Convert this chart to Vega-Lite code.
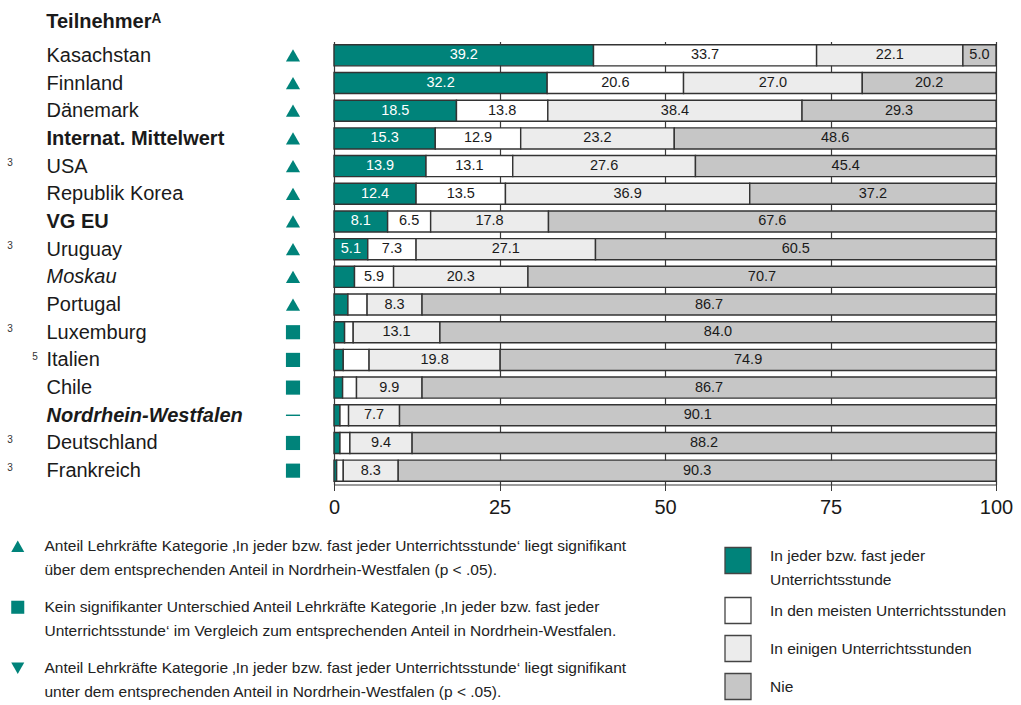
{
  "$schema": "https://vega.github.io/schema/vega-lite/v6.json",
  "padding": {"left": 7, "top": 11.5, "right": 2, "bottom": 1},
  "bounds": "flush",
  "spacing": 31,
  "config": {"view": {"stroke": null}, "font": "Liberation Sans", "text": {"font": "Liberation Sans"}, "style": {"guide-label": {"lineHeight": 24}}},
  "title": {"text": "Teilnehmerᴬ", "anchor": "start", "dx": 39, "fontSize": 20, "fontWeight": "bold", "color": "#1a1a1a", "offset": 10, "font": "Liberation Sans"},
  "datasets": {
    "rows": [
      {"country": "Kasachstan", "note": "", "sig": "up", "j": 39.2, "m": 33.7, "e": 22.1, "n": 5.0},
      {"country": "Finnland", "note": "", "sig": "up", "j": 32.2, "m": 20.6, "e": 27.0, "n": 20.2},
      {"country": "Dänemark", "note": "", "sig": "up", "j": 18.5, "m": 13.8, "e": 38.4, "n": 29.3},
      {"country": "Internat. Mittelwert", "note": "", "sig": "up", "j": 15.3, "m": 12.9, "e": 23.2, "n": 48.6},
      {"country": "USA", "note": "3", "sig": "up", "j": 13.9, "m": 13.1, "e": 27.6, "n": 45.4},
      {"country": "Republik Korea", "note": "", "sig": "up", "j": 12.4, "m": 13.5, "e": 36.9, "n": 37.2},
      {"country": "VG EU", "note": "", "sig": "up", "j": 8.1, "m": 6.5, "e": 17.8, "n": 67.6},
      {"country": "Uruguay", "note": "3", "sig": "up", "j": 5.1, "m": 7.3, "e": 27.1, "n": 60.5},
      {"country": "Moskau", "note": "", "sig": "up", "j": 3.1, "m": 5.9, "e": 20.3, "n": 70.7},
      {"country": "Portugal", "note": "", "sig": "up", "j": 2.1, "m": 2.9, "e": 8.3, "n": 86.7},
      {"country": "Luxemburg", "note": "3", "sig": "same", "j": 1.6, "m": 1.3, "e": 13.1, "n": 84.0},
      {"country": "Italien", "note": "5", "sig": "same", "j": 1.4, "m": 3.9, "e": 19.8, "n": 74.9},
      {"country": "Chile", "note": "", "sig": "same", "j": 1.3, "m": 2.1, "e": 9.9, "n": 86.7},
      {"country": "Nordrhein-Westfalen", "note": "", "sig": "ref", "j": 0.9, "m": 1.3, "e": 7.7, "n": 90.1},
      {"country": "Deutschland", "note": "3", "sig": "same", "j": 0.9, "m": 1.5, "e": 9.4, "n": 88.2},
      {"country": "Frankreich", "note": "3", "sig": "same", "j": 0.4, "m": 1.0, "e": 8.3, "n": 90.3}
    ]
  },
  "hconcat": [
    {
      "width": 20,
      "height": 443,
      "data": {"name": "rows"},
      "encoding": {
        "y": {
          "field": "country", "type": "nominal", "sort": null,
          "axis": {
            "title": null, "domain": false, "ticks": false, "tickSize": 0,
            "labelAlign": "left", "labelPadding": 237, "labelFontSize": 20,
            "labelColor": "#1a1a1a", "labelLimit": 320, "labelFont": "Liberation Sans",
            "labelFontWeight": {"condition": {"test": "datum.value == 'Internat. Mittelwert' || datum.value == 'VG EU' || datum.value == 'Nordrhein-Westfalen'", "value": "bold"}, "value": "normal"},
            "labelFontStyle": {"condition": {"test": "datum.value == 'Moskau' || datum.value == 'Nordrhein-Westfalen'", "value": "italic"}, "value": "normal"}
          }
        }
      },
      "layer": [
        {
          "mark": {"type": "point", "filled": true, "size": 200, "opacity": 1, "color": "#00837a"},
          "encoding": {
            "shape": {
              "field": "sig", "type": "nominal",
              "scale": {"domain": ["up", "same", "down", "ref"], "range": ["triangle-up", "square", "triangle-down", "M-1,-0.1H1V0.1H-1Z"]},
              "legend": {
                "orient": "none", "legendX": -273, "legendY": 497, "title": null,
                "values": ["up", "same", "down"],
                "symbolSize": 170, "symbolFillColor": "#00837a", "symbolStrokeWidth": 0,
                "labelFontSize": 15.5, "labelColor": "#222", "labelFont": "Liberation Sans",
                "labelOffset": 19, "labelLimit": 700, "rowPadding": 20, "gridAlign": "all",
                "labelExpr": "datum.value == 'up' ? ['Anteil Lehrkräfte Kategorie ‚In jeder bzw. fast jeder Unterrichtsstunde‘ liegt signifikant', 'über dem entsprechenden Anteil in Nordrhein-Westfalen (p < .05).'] : datum.value == 'same' ? ['Kein signifikanter Unterschied Anteil Lehrkräfte Kategorie ‚In jeder bzw. fast jeder', 'Unterrichtsstunde‘ im Vergleich zum entsprechenden Anteil in Nordrhein-Westfalen.'] : ['Anteil Lehrkräfte Kategorie ‚In jeder bzw. fast jeder Unterrichtsstunde‘ liegt signifikant', 'unter dem entsprechenden Anteil in Nordrhein-Westfalen (p < .05).']",
                "encode": {"labels": {"update": {"lineHeight": {"value": 24}}}}
              }
            }
          }
        },
        {
          "mark": {"type": "text", "fontSize": 10, "dx": -283, "dy": -3, "color": "#333"},
          "encoding": {"text": {"condition": {"test": "datum.note == '3'", "field": "note", "type": "nominal"}, "value": ""}}
        },
        {
          "mark": {"type": "text", "fontSize": 10, "dx": -258, "dy": -3, "color": "#333"},
          "encoding": {"text": {"condition": {"test": "datum.note == '5'", "field": "note", "type": "nominal"}, "value": ""}}
        }
      ]
    },
    {
      "width": 662,
      "height": 443,
      "data": {"name": "rows"},
      "transform": [
        {"fold": ["j", "m", "e", "n"], "as": ["cat", "value"]},
        {"stack": "value", "groupby": ["country"], "as": ["x0", "x1"]},
        {"calculate": "(datum.x0 + datum.x1) / 2", "as": "mid"}
      ],
      "encoding": {
        "y": {"field": "country", "type": "nominal", "sort": null, "axis": null, "scale": {"paddingInner": 0.24, "paddingOuter": 0.12}}
      },
      "layer": [
        {
          "mark": {"type": "bar", "stroke": "#333333", "strokeWidth": 1.4},
          "encoding": {
            "x": {
              "field": "x0", "type": "quantitative",
              "scale": {"domain": [0, 100], "nice": false},
              "axis": {
                "values": [0, 25, 50, 75, 100], "title": null, "grid": true,
                "gridColor": "#3a3a3a", "gridWidth": 1.2, "gridOpacity": 1,
                "domainColor": "#3a3a3a", "domainWidth": 1.2, "tickColor": "#3a3a3a", "tickSize": 6,
                "labelFontSize": 20, "labelPadding": 7, "labelColor": "#1a1a1a",
                "labelFlush": false, "labelOverlap": false, "labelFont": "Liberation Sans"
              }
            },
            "x2": {"field": "x1"},
            "color": {
              "field": "cat", "type": "nominal",
              "scale": {"domain": ["j", "m", "e", "n"], "range": ["#00837a", "#ffffff", "#ececec", "#c6c6c6"]},
              "legend": {
                "orient": "none", "legendX": 441, "legendY": 505, "title": null,
                "symbolType": "square", "symbolSize": 676, "symbolStrokeColor": "#444", "symbolStrokeWidth": 1.3,
                "labelFontSize": 15.5, "labelColor": "#222", "labelFont": "Liberation Sans",
                "labelOffset": 18, "labelLimit": 400, "rowPadding": 6,
                "labelExpr": "datum.value == 'j' ? ['In jeder bzw. fast jeder', 'Unterrichtsstunde'] : datum.value == 'm' ? 'In den meisten Unterrichtsstunden' : datum.value == 'e' ? 'In einigen Unterrichtsstunden' : 'Nie'",
                "encode": {
                  "labels": {"update": {"lineHeight": {"value": 24}, "dy": [{"test": "datum.value == 'j'", "value": -5}, {"value": 0}]}},
                  "symbols": {"update": {"stroke": {"value": "#444"}, "strokeWidth": {"value": 1.3}}}
                }
              }
            }
          }
        },
        {
          "transform": [{"filter": "datum.value >= 5"}],
          "mark": {"type": "text", "fontSize": 14.5, "font": "Liberation Sans"},
          "encoding": {
            "x": {"field": "mid", "type": "quantitative"},
            "text": {"field": "value", "type": "quantitative", "format": ".1f"},
            "color": {"condition": {"test": "datum.cat == 'j'", "value": "#ffffff"}, "value": "#1a1a1a"}
          }
        }
      ]
    }
  ]
}
